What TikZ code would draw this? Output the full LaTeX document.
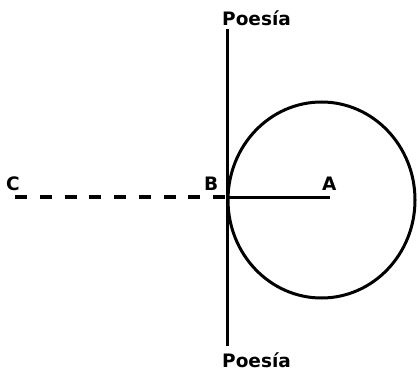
\documentclass[tikz,border=0pt]{standalone}
\usepackage{fontspec}
\setmainfont{DejaVu Sans}
\begin{document}
\begin{tikzpicture}[x=1pt,y=-1pt,
  lbl/.style={font=\bfseries\fontsize{18.5}{18.5}\selectfont, inner sep=0pt},
  thick line/.style={line width=3pt}]
\useasboundingbox (0,0) rectangle (420,377);
\coordinate (Ptop) at (227,29);
\coordinate (Pbot) at (227,346);
\coordinate (B) at (227,197);
\coordinate (A) at (330,197);
\coordinate (C) at (15,197);
\draw[thick line] (Ptop) -- (Pbot);
\draw[thick line] (321.5,200) ellipse [x radius=93.5, y radius=98];
\draw[thick line] (B) -- (A);
\draw[line width=4.5pt, dash pattern=on 12pt off 12.75pt] (C) -- (B);
\node[lbl, anchor=base west] (t1) at (222,26) {Poesía};
\node[lbl, anchor=base west] (t2) at (222,367) {Poesía};
\node[lbl, anchor=base west] (lc) at (6,190) {C};
\node[lbl, anchor=base west] (lb) at (204,190) {B};
\node[lbl, anchor=base west] (la) at (322,190) {A};
\end{tikzpicture}
\end{document}
